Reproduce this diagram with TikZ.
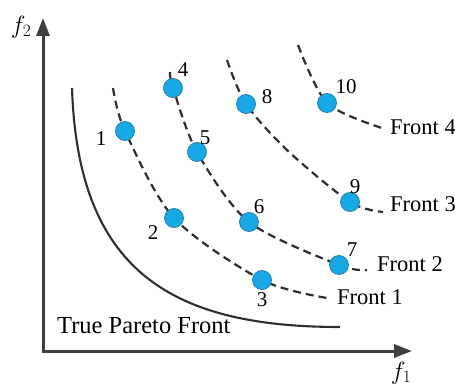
\documentclass[tikz,border=0pt]{standalone}
\usepackage{fontspec}
\setmainfont{Liberation Serif}
\usetikzlibrary{arrows.meta,backgrounds}
\definecolor{axisgray}{HTML}{3F3F3F}
\definecolor{curvegray}{HTML}{2E2E2E}
\definecolor{solblue}{HTML}{17A9E6}
\definecolor{solborder}{HTML}{2A7FA8}

\begin{document}
\begin{tikzpicture}[
    x=1pt, y=-1pt,
    >={Triangle[length=18pt,width=13pt]},
    axis/.style={draw=axisgray, line width=3pt, line join=miter, <->},
    truefront/.style={draw=curvegray, line width=2.1pt},
    front/.style={draw=curvegray, line width=2.2pt, dash pattern=on 8pt off 5pt},
    sol/.style={circle, draw=solborder, line width=0.8pt, fill=solblue,
      minimum size=19pt, inner sep=0pt},
    num/.style={font=\fontsize{21}{21}\selectfont, inner sep=0pt},
    frontlabel/.style={font=\fontsize{22.5}{22.5}\selectfont, inner sep=0pt,
      anchor=base west},
    axislabel/.style={font=\fontsize{27}{27}\selectfont, inner sep=0pt}
  ]
  \useasboundingbox (0,0) rectangle (455,387);

  % axes
  \coordinate (origin) at (43,351);
  \coordinate (ytip) at (43,18);
  \coordinate (xtip) at (412,351);
  \draw[axis] (ytip) -- (origin) -- (xtip);
  \node[axislabel] (f2) at (21,27) {$f_2$};
  \node[axislabel] (f1) at (401,373) {$f_1$};

  % solutions
  \node[sol] (p1) at (125,131) {};
  \node[sol] (p2) at (174,218) {};
  \node[sol] (p3) at (262,280) {};
  \node[sol] (p4) at (173,88) {};
  \node[sol] (p5) at (197,152) {};
  \node[sol] (p6) at (249,222) {};
  \node[sol] (p7) at (339,265) {};
  \node[sol] (p8) at (246,104) {};
  \node[sol] (p9) at (350,202) {};
  \node[sol] (p10) at (327,103) {};

  \node[num] (n1) at (101,139) {1};
  \node[num] (n2) at (153,233) {2};
  \node[num] (n3) at (262,300) {3};
  \node[num] (n4) at (183,70) {4};
  \node[num] (n5) at (205,138) {5};
  \node[num] (n6) at (259,207) {6};
  \node[num] (n7) at (352,250) {7};
  \node[num] (n8) at (267,97) {8};
  \node[num] (n9) at (355,187) {9};
  \node[num] (n10) at (346,87) {10};

  % fronts
  \coordinate (t1) at (72,88);
  \coordinate (t2) at (340,327);
  \coordinate (a1) at (113,88);  \coordinate (b1) at (327,298);
  \coordinate (a2) at (170,72);  \coordinate (b2) at (367,270);
  \coordinate (a3) at (227,60);  \coordinate (b3) at (383,212);
  \coordinate (m3) at (288,151);
  \coordinate (a4) at (298,45);  \coordinate (b4) at (382,128);
  \begin{scope}[on background layer]
    \draw[truefront] (t1) .. controls (78,270) and (170,327) .. (t2);
    \draw[front] plot[smooth] coordinates
      {(a1) (p1.center) (p2.center) (p3.center) (b1)};
    \draw[front] plot[smooth] coordinates
      {(a2) (p4.center) (p5.center) (p6.center) (p7.center) (b2)};
    \draw[front] plot[smooth] coordinates
      {(a3) (p8.center) (m3) (p9.center) (b3)};
    \draw[front] plot[smooth] coordinates
      {(a4) (p10.center) (b4)};
  \end{scope}

  \node[frontlabel] (l1) at (337,305) {Front 1};
  \node[frontlabel] (l2) at (377,272) {Front 2};
  \node[frontlabel] (l3) at (390,212) {Front 3};
  \node[frontlabel] (l4) at (390,135) {Front 4};
  \node[frontlabel, font=\fontsize{24.5}{24.5}\selectfont] (ltrue) at (57,333)
    {True Pareto Front};
\end{tikzpicture}
\end{document}
